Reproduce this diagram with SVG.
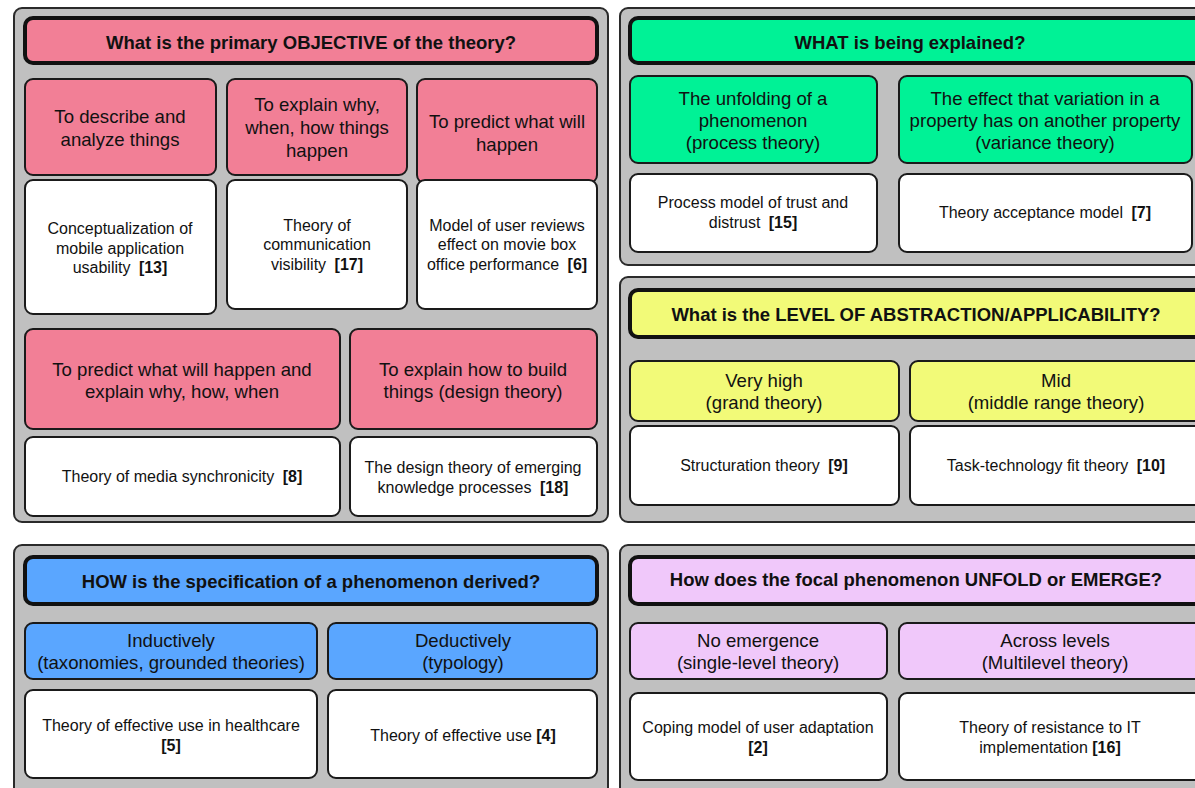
<svg xmlns="http://www.w3.org/2000/svg" width="1195" height="788" viewBox="0 0 1195 788">
<style>
.panel{fill:#c0c0c0;stroke:#2a2a2a;stroke-width:2}
.hdr{stroke:#111;stroke-width:4}
.box{stroke:#1a1a1a;stroke-width:2}
.w{fill:#fff}
.pk{fill:#f27f96}
.gr{fill:#00f296}
.yl{fill:#f2fa78}
.bl{fill:#5aa6ff}
.pu{fill:#f0c8fa}
text{font-family:"Liberation Sans",Arial,sans-serif;fill:#111;text-anchor:middle}
.ht{font-size:18.5px;font-weight:bold}
.ct{font-size:18.6px}
.et{font-size:16px}
.b{font-weight:bold}
</style>
<rect width="1195" height="788" fill="#fff"/>

<g id="panel-objective">
<rect class="panel" x="14" y="8" width="594" height="514" rx="8"/>
<rect class="hdr pk" x="25" y="18" width="572" height="45" rx="8"/>
<text class="ht" x="311" y="48.5">What is the primary OBJECTIVE of the theory?</text>
</g>
<g id="obj-describe">
<rect class="box pk" x="25" y="79" width="191" height="96" rx="8"/>
<text class="ct" x="120" y="123">To describe and</text>
<text class="ct" x="120" y="146">analyze things</text>
</g>
<g id="obj-explain">
<rect class="box pk" x="227" y="79" width="180" height="96" rx="8"/>
<text class="ct" x="317" y="111">To explain why,</text>
<text class="ct" x="317" y="134">when, how things</text>
<text class="ct" x="317" y="157">happen</text>
</g>
<g id="obj-predict">
<rect class="box pk" x="417" y="79" width="180" height="104" rx="8"/>
<text class="ct" x="507" y="128">To predict what will</text>
<text class="ct" x="507" y="151">happen</text>
</g>
<g id="ex-13">
<rect class="box w" x="25" y="180" width="191" height="134" rx="8"/>
<text class="et" x="120" y="234">Conceptualization of</text>
<text class="et" x="120" y="254">mobile application</text>
<text class="et" x="120" y="273">usability <tspan class="b" dx="4">[13]</tspan></text>
</g>
<g id="ex-17">
<rect class="box w" x="227" y="180" width="180" height="129" rx="8"/>
<text class="et" x="317" y="231">Theory of</text>
<text class="et" x="317" y="250">communication</text>
<text class="et" x="317" y="270">visibility <tspan class="b" dx="4">[17]</tspan></text>
</g>
<g id="ex-6">
<rect class="box w" x="417" y="180" width="180" height="129" rx="8"/>
<text class="et" x="507" y="231">Model of user reviews</text>
<text class="et" x="507" y="250">effect on movie box</text>
<text class="et" x="507" y="270">office performance <tspan class="b" dx="4">[6]</tspan></text>
</g>
<g id="obj-predict-explain">
<rect class="box pk" x="25" y="329" width="315" height="100" rx="8"/>
<text class="ct" x="182" y="376">To predict what will happen and</text>
<text class="ct" x="182" y="398">explain why, how, when</text>
</g>
<g id="obj-design">
<rect class="box pk" x="350" y="329" width="247" height="100" rx="8"/>
<text class="ct" x="473" y="376">To explain how to build</text>
<text class="ct" x="473" y="398">things (design theory)</text>
</g>
<g id="ex-8">
<rect class="box w" x="25" y="437" width="315" height="79" rx="8"/>
<text class="et" x="182" y="482">Theory of media synchronicity <tspan class="b" dx="4">[8]</tspan></text>
</g>
<g id="ex-18">
<rect class="box w" x="350" y="437" width="247" height="79" rx="8"/>
<text class="et" x="473" y="473">The design theory of emerging</text>
<text class="et" x="473" y="493">knowledge processes <tspan class="b" dx="4">[18]</tspan></text>
</g>

<g id="panel-what">
<rect class="panel" x="620" y="8" width="590" height="257" rx="8"/>
<rect class="hdr gr" x="630" y="18" width="575" height="45" rx="8"/>
<text class="ht" x="910" y="48.5">WHAT is being explained?</text>
</g>
<g id="what-process">
<rect class="box gr" x="630" y="76" width="247" height="87" rx="8"/>
<text class="ct" x="753" y="105">The unfolding of a</text>
<text class="ct" x="753" y="127">phenomenon</text>
<text class="ct" x="753" y="149">(process theory)</text>
</g>
<g id="what-variance">
<rect class="box gr" x="899" y="76" width="293" height="87" rx="8"/>
<text class="ct" x="1045" y="105">The effect that variation in a</text>
<text class="ct" x="1045" y="127">property has on another property</text>
<text class="ct" x="1045" y="149">(variance theory)</text>
</g>
<g id="ex-15">
<rect class="box w" x="630" y="174" width="247" height="78" rx="8"/>
<text class="et" x="753" y="208">Process model of trust and</text>
<text class="et" x="753" y="228">distrust <tspan class="b" dx="4">[15]</tspan></text>
</g>
<g id="ex-7">
<rect class="box w" x="899" y="174" width="293" height="78" rx="8"/>
<text class="et" x="1045" y="218">Theory acceptance model <tspan class="b" dx="4">[7]</tspan></text>
</g>

<g id="panel-level">
<rect class="panel" x="620" y="277" width="590" height="245" rx="8"/>
<rect class="hdr yl" x="630" y="290" width="575" height="47" rx="8"/>
<text class="ht" x="916" y="320.5">What is the LEVEL OF ABSTRACTION/APPLICABILITY?</text>
</g>
<g id="level-grand">
<rect class="box yl" x="630" y="361" width="269" height="60" rx="8"/>
<text class="ct" x="764" y="387">Very high</text>
<text class="ct" x="764" y="409">(grand theory)</text>
</g>
<g id="level-mid">
<rect class="box yl" x="910" y="361" width="295" height="60" rx="8"/>
<text class="ct" x="1056" y="387">Mid</text>
<text class="ct" x="1056" y="409">(middle range theory)</text>
</g>
<g id="ex-9">
<rect class="box w" x="630" y="426" width="269" height="79" rx="8"/>
<text class="et" x="764" y="471">Structuration theory <tspan class="b" dx="4">[9]</tspan></text>
</g>
<g id="ex-10">
<rect class="box w" x="910" y="426" width="295" height="79" rx="8"/>
<text class="et" x="1056" y="471">Task-technology fit theory <tspan class="b" dx="4">[10]</tspan></text>
</g>

<g id="panel-how">
<rect class="panel" x="14" y="545" width="594" height="260" rx="8"/>
<rect class="hdr bl" x="25" y="557" width="572" height="47" rx="8"/>
<text class="ht" x="311" y="587.5">HOW is the specification of a phenomenon derived?</text>
</g>
<g id="how-inductive">
<rect class="box bl" x="25" y="623" width="292" height="56" rx="8"/>
<text class="ct" x="171" y="647">Inductively</text>
<text class="ct" x="171" y="669">(taxonomies, grounded theories)</text>
</g>
<g id="how-deductive">
<rect class="box bl" x="328" y="623" width="269" height="56" rx="8"/>
<text class="ct" x="463" y="647">Deductively</text>
<text class="ct" x="463" y="669">(typology)</text>
</g>
<g id="ex-5">
<rect class="box w" x="25" y="690" width="292" height="88" rx="8"/>
<text class="et" x="171" y="731">Theory of effective use in healthcare</text>
<text class="et b" x="171" y="751">[5]</text>
</g>
<g id="ex-4">
<rect class="box w" x="328" y="690" width="269" height="88" rx="8"/>
<text class="et" x="463" y="741">Theory of effective use <tspan class="b">[4]</tspan></text>
</g>

<g id="panel-emerge">
<rect class="panel" x="620" y="545" width="590" height="260" rx="8"/>
<rect class="hdr pu" x="630" y="557" width="575" height="47" rx="8"/>
<text class="ht" x="916" y="585.5">How does the focal phenomenon UNFOLD or EMERGE?</text>
</g>
<g id="emerge-none">
<rect class="box pu" x="630" y="623" width="257" height="56" rx="8"/>
<text class="ct" x="758" y="647">No emergence</text>
<text class="ct" x="758" y="669">(single-level theory)</text>
</g>
<g id="emerge-across">
<rect class="box pu" x="899" y="623" width="306" height="56" rx="8"/>
<text class="ct" x="1055" y="647">Across levels</text>
<text class="ct" x="1055" y="669">(Multilevel theory)</text>
</g>
<g id="ex-2">
<rect class="box w" x="630" y="693" width="257" height="87" rx="8"/>
<text class="et" x="758" y="733">Coping model of user adaptation</text>
<text class="et b" x="758" y="753">[2]</text>
</g>
<g id="ex-16">
<rect class="box w" x="899" y="693" width="306" height="87" rx="8"/>
<text class="et" x="1050" y="733">Theory of resistance to IT</text>
<text class="et" x="1050" y="753">implementation <tspan class="b">[16]</tspan></text>
</g>
<g id="connectors"></g>
</svg>
